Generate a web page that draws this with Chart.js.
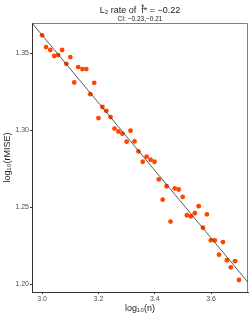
<!DOCTYPE html>
<html><head><meta charset="utf-8">
<script src="https://cdn.jsdelivr.net/npm/chart.js@4"></script>
<style>html,body{margin:0;padding:0;background:#fff}</style>
</head><body>
<canvas id="c" width="251" height="317" style="display:block;width:251px;height:317px"></canvas>
<script>
const log10n = [3.000,3.014,3.029,3.043,3.057,3.071,3.086,3.100,3.114,3.128,
  3.143,3.157,3.171,3.185,3.200,3.214,3.228,3.243,3.257,3.271,
  3.285,3.300,3.314,3.328,3.342,3.357,3.371,3.385,3.399,3.414,
  3.428,3.442,3.456,3.471,3.485,3.499,3.514,3.528,3.542,3.556,
  3.571,3.585,3.599,3.613,3.628,3.642,3.656,3.670,3.685,3.699];
const log10rMISE = [1.3616,1.3540,1.3521,1.3482,1.3488,1.3521,1.3431,1.3475,1.3310,1.3410,
  1.3397,1.3397,1.3234,1.3308,1.3079,1.3151,1.3126,1.3086,1.3011,1.2992,
  1.2978,1.2926,1.2997,1.2928,1.2863,1.2796,1.2829,1.2809,1.2796,1.2681,
  1.2550,1.2637,1.2408,1.2623,1.2616,1.2568,1.2449,1.2441,1.2462,1.2508,
  1.2368,1.2455,1.2286,1.2286,1.2193,1.2275,1.2157,1.2111,1.2151,1.2029];
const fitX = [2.964, 3.731];
const fitY = [1.3696, 1.2014];
const xTicks = [3.0, 3.2, 3.4, 3.6];
const yTicks = [1.20, 1.25, 1.30, 1.35];
const xRange = [2.964, 3.731];
const yRange = [1.1951, 1.3696];
const titleText = 'L\u2082 rate of  f\u0302* = \u22120.22';
const subtitleText = 'CI: \u22120.23,\u22120.21';
const xTitle = 'log\u2081\u2080(n)';
const yTitle = 'log\u2081\u2080(rMISE)';

const FAMILY = "'Liberation Sans', Arial, sans-serif";

const titlePlugin = {
  id: 'titles',
  afterDraw(chart) {
    const ctx = chart.ctx, a = chart.chartArea;
    const cx = (a.left + a.right) / 2;
    ctx.save();
    ctx.fillStyle = '#1a1a1a';
    ctx.textAlign = 'center';
    ctx.textBaseline = 'middle';
    ctx.font = '9px ' + FAMILY;
    ctx.fillText(titleText, cx, 10.5);
    ctx.font = '6.5px ' + FAMILY;
    ctx.fillText(subtitleText, cx, 19.5);
    ctx.restore();
  }
};
const framePlugin = {
  id: 'frame',
  beforeDatasetsDraw(chart) {
    const ctx = chart.ctx, a = chart.chartArea;
    ctx.save();
    ctx.strokeStyle = '#7f7f7f';
    ctx.lineWidth = 1;
    ctx.beginPath();
    ctx.moveTo(a.left, a.top + 0.5);
    ctx.lineTo(a.right - 0.5, a.top + 0.5);
    ctx.lineTo(a.right - 0.5, a.bottom);
    ctx.stroke();
    ctx.restore();
  }
};

new Chart(document.getElementById('c'), {
  type: 'scatter',
  data: {
    datasets: [
      {
        type: 'line',
        data: fitX.map((x, i) => ({x, y: fitY[i]})),
        borderColor: '#333333',
        borderWidth: 0.8,
        pointRadius: 0,
        fill: false
      },
      {
        data: log10n.map((x, i) => ({x, y: log10rMISE[i]})),
        backgroundColor: '#FF4500',
        borderWidth: 0,
        pointRadius: 2.4,
        pointHoverRadius: 2.4
      }
    ]
  },
  options: {
    responsive: false,
    animation: false,
    devicePixelRatio: 1,
    layout: { padding: { left: 0, top: 23, right: 3, bottom: 0 } },
    plugins: { legend: { display: false }, tooltip: { enabled: false }, title: { display: false } },
    scales: {
      x: {
        type: 'linear',
        min: xRange[0], max: xRange[1],
        afterBuildTicks: s => { s.ticks = xTicks.map(v => ({ value: v })); },
        afterFit: s => { s.height = 25; },
        ticks: {
          callback: v => v.toFixed(1),
          font: { size: 7, family: FAMILY },
          color: '#4d4d4d',
          padding: 1,
          maxRotation: 0,
          autoSkip: false
        },
        grid: { drawOnChartArea: false, drawTicks: true, tickLength: 2, color: '#333333' },
        border: { color: '#333333', width: 1 },
        title: { display: true, text: xTitle, font: { size: 9, family: FAMILY }, color: '#1a1a1a', padding: { top: 0, bottom: 3 } }
      },
      y: {
        type: 'linear',
        min: yRange[0], max: yRange[1],
        afterBuildTicks: s => { s.ticks = yTicks.map(v => ({ value: v })); },
        afterFit: s => { s.width = 32; },
        ticks: {
          callback: v => v.toFixed(2),
          font: { size: 7, family: FAMILY },
          color: '#4d4d4d',
          padding: 1,
          autoSkip: false
        },
        grid: { drawOnChartArea: false, drawTicks: true, tickLength: 2, color: '#333333' },
        border: { color: '#333333', width: 1 },
        title: { display: true, text: yTitle, font: { size: 9, family: FAMILY }, color: '#1a1a1a', padding: { top: 2, bottom: 0 } }
      }
    }
  },
  plugins: [framePlugin, titlePlugin]
});
</script>
</body></html>
